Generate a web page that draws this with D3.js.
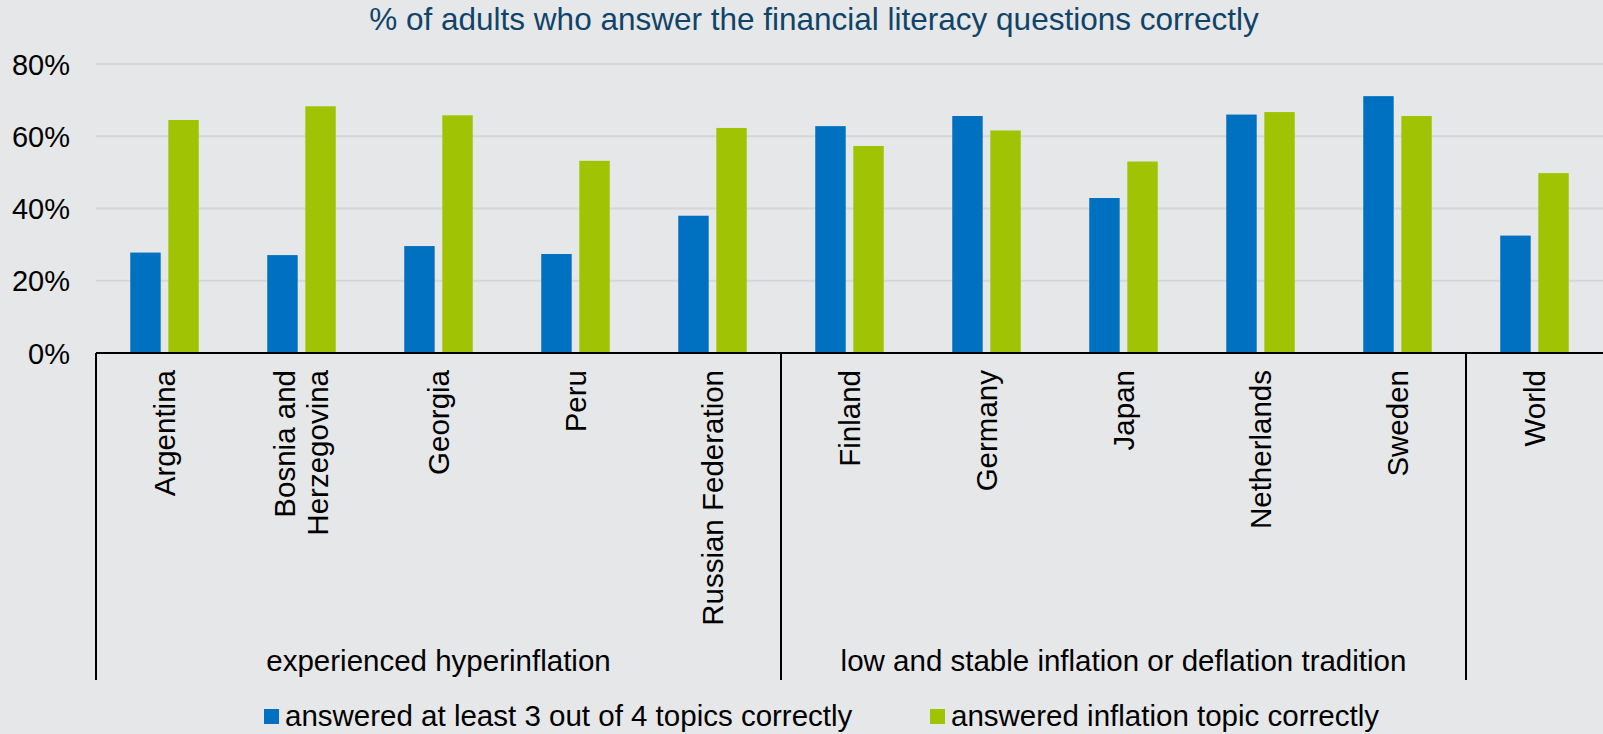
<!DOCTYPE html>
<html><head><meta charset="utf-8">
<script src="https://cdn.jsdelivr.net/npm/d3@7/dist/d3.min.js"></script>
<style>
html,body{margin:0;padding:0;background:#e6e7e9;}
svg{display:block;font-family:"Liberation Sans",Arial,sans-serif;}
</style></head><body>
<svg id="chart" width="1603" height="734"></svg>
<script>
const categories = ["Argentina","Bosnia and Herzegovina","Georgia","Peru","Russian Federation","Finland","Germany","Japan","Netherlands","Sweden","World"];
const categoryLines = [["Argentina"],["Bosnia and","Herzegovina"],["Georgia"],["Peru"],["Russian Federation"],["Finland"],["Germany"],["Japan"],["Netherlands"],["Sweden"],["World"]];
const atLeast3of4 = [27.8,27.1,29.6,27.4,38.0,62.8,65.6,42.9,66.0,71.1,32.5];
const inflationTopic = [64.5,68.3,65.8,53.2,62.3,57.3,61.6,53.0,66.7,65.6,49.8];
const seriesNames = ["answered at least 3 out of 4 topics correctly","answered inflation topic correctly"];
const groups = [
  {name:"experienced hyperinflation", start:0, end:4},
  {name:"low and stable inflation or deflation tradition", start:5, end:9},
  {name:"", start:10, end:10}
];
const yTicks = [0,20,40,60,80];
const title = "% of adults who answer the financial literacy questions correctly";

(function(){
const svg = d3.select("#chart");
const W = 1603, H = 734;
const pL = 96, pR = 1603, pT = 64, pB = 353;

const x = d3.scaleBand().domain(categories).range([pL, pR]).paddingInner(0).paddingOuter(0);
const sub = d3.scaleBand().domain([0,1]).range([0, x.bandwidth()]).paddingInner(0.2).paddingOuter(0.9);
const y = d3.scaleLinear().domain([0,80]).range([pB, pT]);

const colors = ["#0070c0","#a0c404"];

svg.append("rect").attr("width",W).attr("height",H).attr("fill","#e6e7e9");

svg.append("text").attr("x", 814).attr("y", 30).attr("text-anchor","middle")
  .attr("font-size", 31.5).attr("fill","#0f4468").text(title);

svg.append("g").selectAll("line").data(yTicks.filter(d=>d>0)).join("line")
  .attr("x1", pL).attr("x2", pR).attr("y1", d=>y(d)).attr("y2", d=>y(d))
  .attr("stroke","#d5d6d9").attr("stroke-width",2);

const yAxis = d3.axisLeft(y).tickValues(yTicks).tickFormat(d=>d+"%").tickSize(0).tickPadding(26);
const ya = svg.append("g").attr("transform",`translate(${pL},0)`).call(yAxis);
ya.select(".domain").remove();
ya.selectAll("text").attr("font-size",29).attr("fill","#000").attr("font-family","Liberation Sans, Arial, sans-serif").attr("dy","0.35em");

const data = categories.map((c,i)=>({c, v:[atLeast3of4[i], inflationTopic[i]]}));
const g = svg.append("g");
data.forEach(d=>{
  d.v.forEach((v,k)=>{
    g.append("rect")
      .attr("x", x(d.c) + sub(k))
      .attr("width", sub.bandwidth())
      .attr("y", y(v))
      .attr("height", y(0)-y(v))
      .attr("fill", colors[k]);
  });
});

svg.append("line").attr("x1",pL).attr("x2",pR).attr("y1",pB).attr("y2",pB)
  .attr("stroke","#000").attr("stroke-width",2);

const sepBottom = 680;
const seps = [pL, x(categories[5]), x(categories[10])];
svg.append("g").selectAll("line").data(seps).join("line")
  .attr("x1",d=>d).attr("x2",d=>d).attr("y1",pB).attr("y2",sepBottom)
  .attr("stroke","#000").attr("stroke-width",2);

const lab = svg.append("g");
categoryLines.forEach((lines,i)=>{
  const cx = x(categories[i]) + x.bandwidth()/2;
  const n = lines.length;
  const t = lab.append("text")
    .attr("transform",`translate(${cx},${pB+17}) rotate(-90)`)
    .attr("text-anchor","end").attr("font-size",29.5).attr("fill","#000");
  lines.forEach((ln,j)=>{
    t.append("tspan").attr("x",0).attr("y", (j - (n-1)/2)*33).attr("dy","0.35em").text(ln);
  });
});

groups.forEach(gr=>{
  if(!gr.name) return;
  const x0 = x(categories[gr.start]), x1 = x(categories[gr.end]) + x.bandwidth();
  svg.append("text").attr("x",(x0+x1)/2).attr("y",671).attr("text-anchor","middle")
    .attr("font-size",29.5).attr("fill","#000").text(gr.name);
});

const legX = [264, 930];
seriesNames.forEach((s,k)=>{
  svg.append("rect").attr("x",legX[k]).attr("y",709).attr("width",15).attr("height",15).attr("fill",colors[k]);
  svg.append("text").attr("x",legX[k]+21).attr("y",726).attr("font-size",29.5).attr("fill","#000").text(s);
});
})();
</script>
</body></html>
